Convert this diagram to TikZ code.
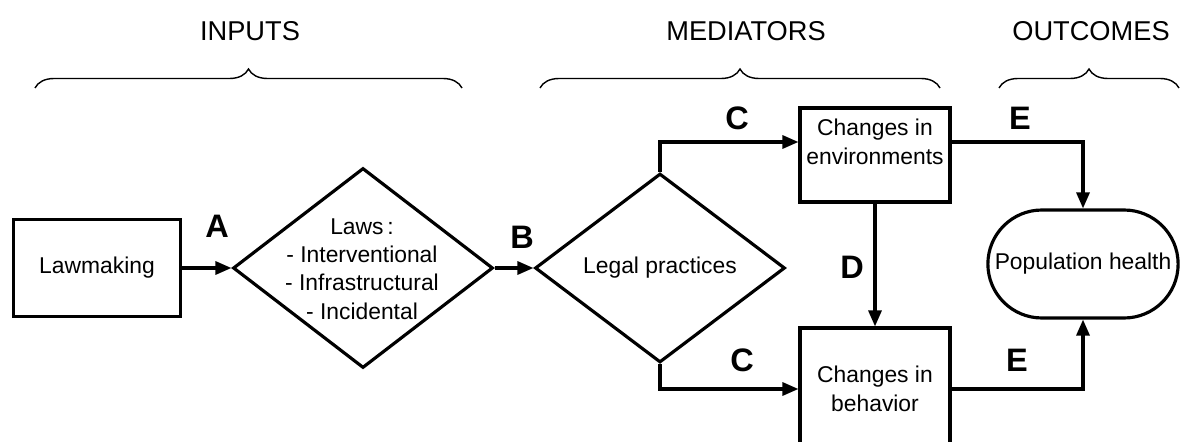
\documentclass[tikz,border=0pt]{standalone}
\usepackage{fontspec}
\setmainfont{Liberation Sans}
\usepackage{tikz}
\usetikzlibrary{shapes.geometric, shapes.misc, arrows.meta, decorations.pathreplacing}

\begin{document}
\begin{tikzpicture}[x=0.02cm, y=-0.02cm,
        every node/.style={font={\fontsize{13}{16.2}\selectfont}},
        box/.style={rectangle, draw=black, line width=1.8pt},
        dia/.style={diamond, draw=black, line width=1.8pt, inner sep=0pt},
        arr/.style={-{Triangle[length=3.2mm, width=2.6mm]}, line width=1.8pt},
        tag/.style={font={\fontsize{18.5}{20}\selectfont\bfseries}},
        head/.style={font={\fontsize{15.5}{18}\selectfont}},
        brc/.style={decorate, decoration={brace, amplitude=0.38cm}, line width=0.8pt}]
        \useasboundingbox (0, 0) rectangle (1186, 442);

        % Headings and braces
        \node[head] (inputs) at (250, 31) {INPUTS};
        \node[head] (mediators) at (746, 31) {MEDIATORS};
        \node[head] (outcomes) at (1091, 31) {OUTCOMES};
        \draw[brc] (35, 88) -- (462, 88);
        \draw[brc] (540, 88) -- (940, 88);
        \draw[brc] (999, 88) -- (1179, 88);

        % Inputs
        \node[box, minimum width=3.34cm, minimum height=1.94cm] (lawmaking) at (97, 268) {Lawmaking};
        \node[dia, minimum width=5.2cm, minimum height=4cm] (laws) at (363, 268) {};
        \node[align=center] (lawstxt) at (362, 269) {Laws\,:\\- Interventional\\- Infrastructural\\- Incidental};
        \draw[arr] (lawmaking) -- (laws);
        \node[tag] (A) at (217, 226) {A};

        % Mediators
        \node[dia, minimum width=5cm, minimum height=3.78cm] (legal) at (660, 268) {Legal practices};
        \draw[arr] (laws) -- (legal);
        \node[tag] (B) at (522, 237) {B};

        \node[box, minimum width=3cm, minimum height=1.88cm] (env) at (875, 155) {};
        \node[align=center] (envtxt) at (875, 142) {Changes in\\environments};
        \node[box, minimum width=3cm, minimum height=2.44cm, align=center] (beh) at (875, 389) {Changes in\\behavior};
        \draw[arr] (legal.north) |- (env.west |- envtxt);
        \draw[arr] (legal.south) |- (beh.west);
        \draw[arr] (env) -- (beh);
        \node[tag] (C1) at (737, 118) {C};
        \node[tag] (C2) at (742, 360) {C};
        \node[tag] (D) at (852, 267) {D};

        % Outcomes
        \node[rounded rectangle, draw=black, line width=1.8pt, minimum width=4.04cm, minimum height=2.16cm] (pop) at (1083, 264) {Population health};
        \draw[arr] (env.east |- envtxt) -| (pop.north);
        \draw[arr] (beh.east) -| (pop.south);
        \node[tag] (E1) at (1020, 118) {E};
        \node[tag] (E2) at (1017, 360) {E};
    \end{tikzpicture}
\end{document}
